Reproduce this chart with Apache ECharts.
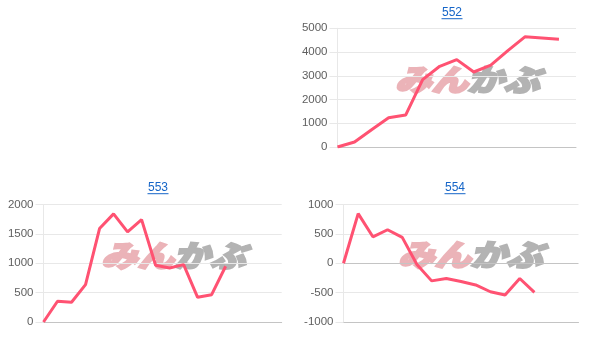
<!DOCTYPE html>
<html><head><meta charset="utf-8">
<script src="https://cdn.jsdelivr.net/npm/echarts@6/dist/echarts.min.js"></script>
<style>html,body{margin:0;padding:0;background:#fff}#c{width:602px;height:351px}</style>
</head><body><div id="c"></div>
<script>
const titles = ['552', '553', '554'];
const cats552 = ['1','2','3','4','5','6','7','8','9','10','11','12','13','14','15'];
const cats553 = ['1','2','3','4','5','6','7','8','9','10','11','12','13','14','15','16','17','18'];
const cats554 = ['1','2','3','4','5','6','7','8','9','10','11','12','13','14','15','16','17'];
const values552 = [0, 210, 730, 1230, 1345, 2840, 3400, 3680, 3160, 3445, 4060, 4640, 4590, 4540];
const values553 = [0, 353, 336, 636, 1590, 1840, 1533, 1743, 965, 920, 977, 420, 465, 949];
const values554 = [0, 845, 450, 570, 440, -20, -300, -260, -310, -370, -485, -540, -260, -495];
const yTicks552 = [0, 5000, 1000];
const yTicks553 = [0, 2000, 500];
const yTicks554 = [-1000, 1000, 500];

const chart = echarts.init(document.getElementById('c'), null, {renderer: 'canvas'});
const LINE = '#ff5272', GRID = '#e8e8e8', AXIS = '#c4c4c4';
const grids = [
  {left: 337.5, top: 28.3, width: 238.5, height: 118.7},
  {left: 43.5, top: 204.5, width: 238.2, height: 117.5},
  {left: 343.5, top: 204.5, width: 235, height: 117.5}
];
const cats = [cats552, cats553, cats554];
const vals = [values552, values553, values554];
const ticks = [yTicks552, yTicks553, yTicks554];
const titlePos = [[452, 13], [158, 188], [455, 188]];
const wmPos = [[395, 65], [101, 240.5], [398, 240]];

const xAxis = cats.map((c, i) => ({
  type: 'category', gridIndex: i, data: c, boundaryGap: false,
  axisLine: {show: true, onZero: false, lineStyle: {color: AXIS, width: 1}},
  axisTick: {show: false}, axisLabel: {show: false}, splitLine: {show: false}
}));
const yAxis = ticks.map((t, i) => {
  const n = Math.round((t[1] - t[0]) / t[2]) + 1;
  const cols = [];
  for (let k = 0; k < n; k++) {
    const v = t[0] + k * t[2];
    cols.push(v === 0 ? AXIS : GRID);
  }
  return {
    type: 'value', gridIndex: i, min: t[0], max: t[1], interval: t[2],
    axisLine: {show: true, lineStyle: {color: GRID}},
    axisTick: {show: true, length: 8, lineStyle: {color: GRID}},
    axisLabel: {color: '#606060', fontSize: 11.5, fontFamily: 'Liberation Sans, Arial', margin: 10,
      formatter: v => String(v)},
    splitLine: {show: true, lineStyle: {color: cols, width: 1}}
  };
});
const series = vals.map((v, i) => ({
  type: 'line', xAxisIndex: i, yAxisIndex: i, data: v, symbol: 'none', smooth: false,
  lineStyle: {color: LINE, width: 3}, z: 5, animation: false
}));

const graphic = [];
titles.forEach((t, i) => {
  const [cx, cy] = titlePos[i];
  graphic.push({type: 'text', x: cx, y: cy, z: 10, style: {text: t, fill: '#1565c8',
    font: '12px "Liberation Sans", Arial', align: 'center', verticalAlign: 'middle'}});
  graphic.push({type: 'rect', shape: {x: cx - 10.5, y: cy + 5.2, width: 21, height: 1}, z: 10,
    style: {fill: '#1565c8'}});
});
wmPos.forEach(([x, y]) => {
  graphic.push({type: 'group', x: x, y: y, scaleX: 1.22, z: 1, children: [
    {type: 'text', x: 0, y: 0, style: {text: 'みん', fill: '#ebb3b8', stroke: '#ebb3b8', lineWidth: 2,
      font: 'italic 900 30px "Noto Sans CJK JP"', verticalAlign: 'top'}},
    {type: 'text', x: 59, y: 0, style: {text: 'かぶ', fill: '#b3b3b3', stroke: '#b3b3b3', lineWidth: 2,
      font: 'italic 900 30px "Noto Sans CJK JP"', verticalAlign: 'top'}}
  ]});
});

chart.setOption({
  animation: false,
  grid: grids.map(g => Object.assign({containLabel: false}, g)),
  xAxis, yAxis, series, graphic
});
</script></body></html>
